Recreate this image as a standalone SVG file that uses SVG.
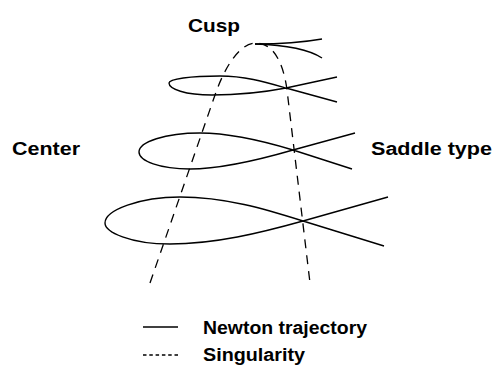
<svg xmlns="http://www.w3.org/2000/svg" width="496" height="372" viewBox="0 0 496 372">
<style>
.t{font-family:"Liberation Sans",Arial,sans-serif;font-weight:bold;font-size:18px;fill:#000}
.s{fill:none;stroke:#000;stroke-width:1.4}
.d{fill:none;stroke:#000;stroke-width:1.3;stroke-dasharray:9 7}
.ld{fill:none;stroke:#000;stroke-width:1.3;stroke-dasharray:3.5 2.8}
</style>
<rect width="496" height="372" fill="#fff"/>
<g id="connectors">
<path id="singularity" class="d" d="M150,283 L215,95 C225,66 240,43 256,43 C272,43 283,60 287,90 L310,283"/>
</g>
<g id="cusp-curve">
<path class="s" d="M255,44 C280,44 305,42 322,39"/>
<path class="s" d="M255,44 C285,45 310,50 322,58"/>
</g>
<g id="trajectory1">
<path class="s" d="M337,77 L286,88 C260,93 235,95 212,95 C185,95 169,89 169,83 C169,79 190,76 220,76 C245,76 265,82 286,88 L337,102"/>
</g>
<g id="trajectory2">
<path class="s" d="M355,133 L293,150 C255,161 220,169 190,169 C160,169 139,161 139,152 C139,142 165,133 200,133 C230,133 260,140 293,150 L352,169"/>
</g>
<g id="trajectory3">
<path class="s" d="M388,197 L303,221 C260,233 215,244 170,244 C130,244 105,232 105,223 C105,210 140,197 180,197 C225,197 265,209 303,221 L384,246"/>
</g>
<g id="label-cusp"><text class="t" x="188" y="32" textLength="52" lengthAdjust="spacingAndGlyphs">Cusp</text></g>
<g id="label-center"><text class="t" x="12" y="155" textLength="68" lengthAdjust="spacingAndGlyphs">Center</text></g>
<g id="label-saddle"><text class="t" x="371" y="155" textLength="121" lengthAdjust="spacingAndGlyphs">Saddle type</text></g>
<g id="legend">
<line class="s" x1="143" y1="327" x2="178" y2="327"/>
<text class="t" x="203" y="334" textLength="164" lengthAdjust="spacingAndGlyphs">Newton trajectory</text>
<line class="ld" x1="143" y1="355" x2="178" y2="355"/>
<text class="t" x="203" y="361" textLength="102" lengthAdjust="spacingAndGlyphs">Singularity</text>
</g>
</svg>
